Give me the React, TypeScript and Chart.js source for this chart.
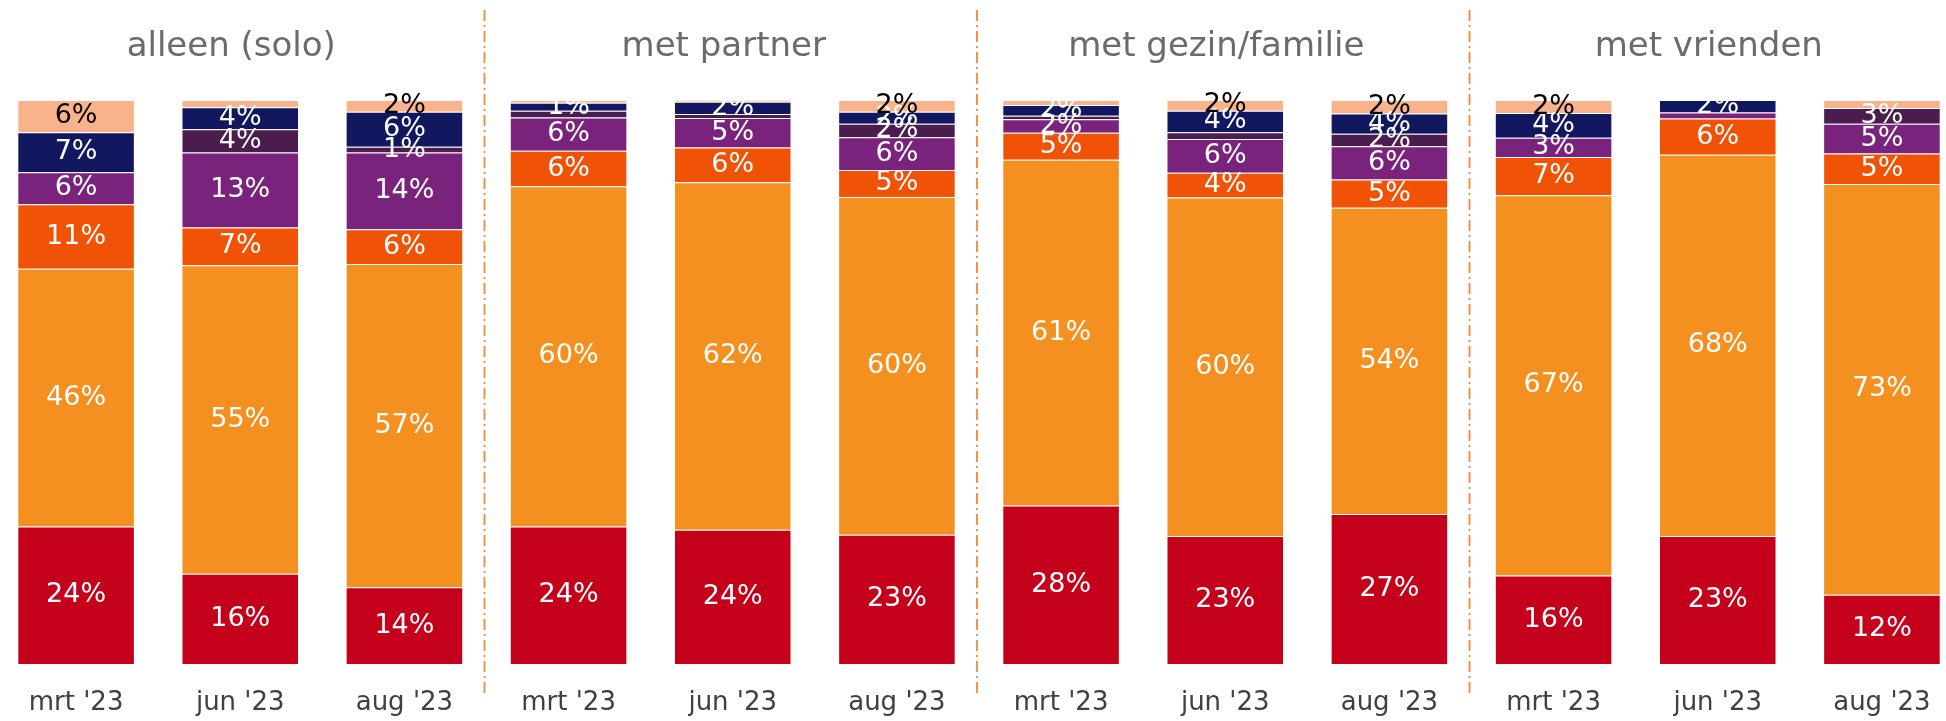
import React, { useEffect, useRef } from 'react';
import { Chart, registerables } from 'chart.js';

Chart.register(...registerables);

const groups = ['alleen (solo)', 'met partner', 'met gezin/familie', 'met vrienden'];
const periods = ["mrt '23", "jun '23", "aug '23"];
const categories = groups.flatMap(() => periods);

// series, bottom to top (percent per bar, 12 bars)
const rood = [24.4, 16.0, 13.6, 24.4, 23.8, 22.9, 28.1, 22.7, 26.6, 15.7, 22.7, 12.3];
const oranje = [45.7, 54.7, 57.3, 60.3, 61.6, 59.9, 61.3, 60.0, 54.3, 67.4, 67.6, 72.8];
const donkeroranje = [11.4, 6.7, 6.2, 6.3, 6.2, 4.8, 4.8, 4.4, 5.0, 6.8, 6.4, 5.4];
const paars = [5.7, 13.3, 13.6, 5.9, 5.2, 5.8, 2.4, 6.0, 5.9, 3.4, 1.1, 5.3];
const donkerpaars = [0, 4.1, 1.0, 1.2, 0.7, 2.4, 0.6, 1.2, 2.2, 0, 0, 2.8];
const navy = [7.1, 3.9, 6.2, 1.4, 2.2, 2.1, 1.9, 3.8, 3.6, 4.4, 2.2, 0];
const perzik = [5.7, 1.3, 2.1, 0.5, 0.3, 2.1, 0.9, 1.9, 2.4, 2.3, 0, 1.4];

const seriesValues = [rood, oranje, donkeroranje, paars, donkerpaars, navy, perzik];
const seriesColors = ['#C5001A', '#F49020', '#F05206', '#7A237D', '#4B1D4F', '#11185F', '#F9B38A'];
const labelColors = ['#FFFFFF', '#FFFFFF', '#FFFFFF', '#FFFFFF', '#FFFFFF', '#FFFFFF', '#000000'];

// [series index, bar index] of segments that carry no data label in the original
const hiddenLabels: [number, number][] = [
  [6, 1], [4, 3], [6, 3], [4, 4], [6, 4], [4, 6], [6, 6], [4, 7], [3, 10], [6, 11],
];

const CANVAS_W = 1970;
const CANVAS_H = 744;

const overlayPlugin = {
  id: 'overlay',
  afterDatasetsDraw(chart: any) {
    const ctx = chart.ctx;
    ctx.save();
    ctx.font = '27px "DejaVu Sans"';
    ctx.textAlign = 'center';
    ctx.textBaseline = 'middle';
    chart.data.datasets.forEach((ds: any, si: number) => {
      const meta = chart.getDatasetMeta(si);
      meta.data.forEach((bar: any, i: number) => {
        const v = ds.data[i];
        if (!v) return;
        if (hiddenLabels.some(([s, b]) => s === si && b === i)) return;
        ctx.fillStyle = labelColors[si];
        ctx.fillText(`${Math.round(v)}%`, bar.x, (bar.y + bar.base) / 2);
      });
    });
    ctx.restore();
  },
  afterDraw(chart: any) {
    const ctx = chart.ctx;
    const x = chart.scales.x;
    ctx.save();
    // separators between groups
    ctx.strokeStyle = '#F2883A';
    ctx.lineWidth = 1.8;
    ctx.setLineDash([11, 4, 2, 4]);
    for (let g = 1; g < groups.length; g++) {
      const px = (x.getPixelForTick(g * 3 - 1) + x.getPixelForTick(g * 3)) / 2 - 2;
      ctx.beginPath();
      ctx.moveTo(px, 10);
      ctx.lineTo(px, 695);
      ctx.stroke();
    }
    ctx.setLineDash([]);
    // group titles
    ctx.fillStyle = '#6b6b6b';
    ctx.font = '400 34px "DejaVu Sans"';
    ctx.textAlign = 'center';
    ctx.textBaseline = 'middle';
    groups.forEach((g, gi) => {
      const cx = x.getPixelForTick(gi * 3 + 1) - 9;
      ctx.fillText(g, cx, 47);
    });
    ctx.restore();
  },
};

export default function App() {
  const ref = useRef<HTMLCanvasElement>(null);
  useEffect(() => {
    if (!ref.current) return;
    const chart = new Chart(ref.current, {
      type: 'bar',
      data: {
        labels: categories,
        datasets: seriesValues.map((vals, si) => ({
          label: `s${si}`,
          data: vals,
          backgroundColor: seriesColors[si],
          borderColor: 'rgba(255,255,255,0.3)',
          borderWidth: 1,
          barPercentage: 0.716,
          categoryPercentage: 1,
        })),
      },
      options: {
        responsive: false,
        animation: false,
        devicePixelRatio: 1,
        layout: { padding: { top: 100, bottom: 0.8, left: 0, right: 0 } },
        plugins: {
          legend: { display: false },
          tooltip: { enabled: false },
          title: { display: false },
        },
        scales: {
          x: {
            stacked: true,
            grid: { display: false, drawTicks: false },
            border: { display: false },
            ticks: {
              color: '#404040',
              font: { family: 'DejaVu Sans', size: 26 },
              padding: 24,
              maxRotation: 0,
              autoSkip: false,
            },
          },
          y: {
            stacked: true,
            display: false,
            min: 0,
            max: 100,
          },
        },
      },
      plugins: [overlayPlugin],
    });
    return () => chart.destroy();
  }, []);
  return (
    <div style={{ position: 'fixed', left: 0, top: 0, width: 1946, height: 721, overflow: 'hidden', background: '#fff' }}>
      <canvas
        ref={ref}
        width={CANVAS_W}
        height={CANVAS_H}
        style={{ position: 'absolute', left: -6, top: 0, width: CANVAS_W, height: CANVAS_H, display: 'block' }}
      />
    </div>
  );
}
